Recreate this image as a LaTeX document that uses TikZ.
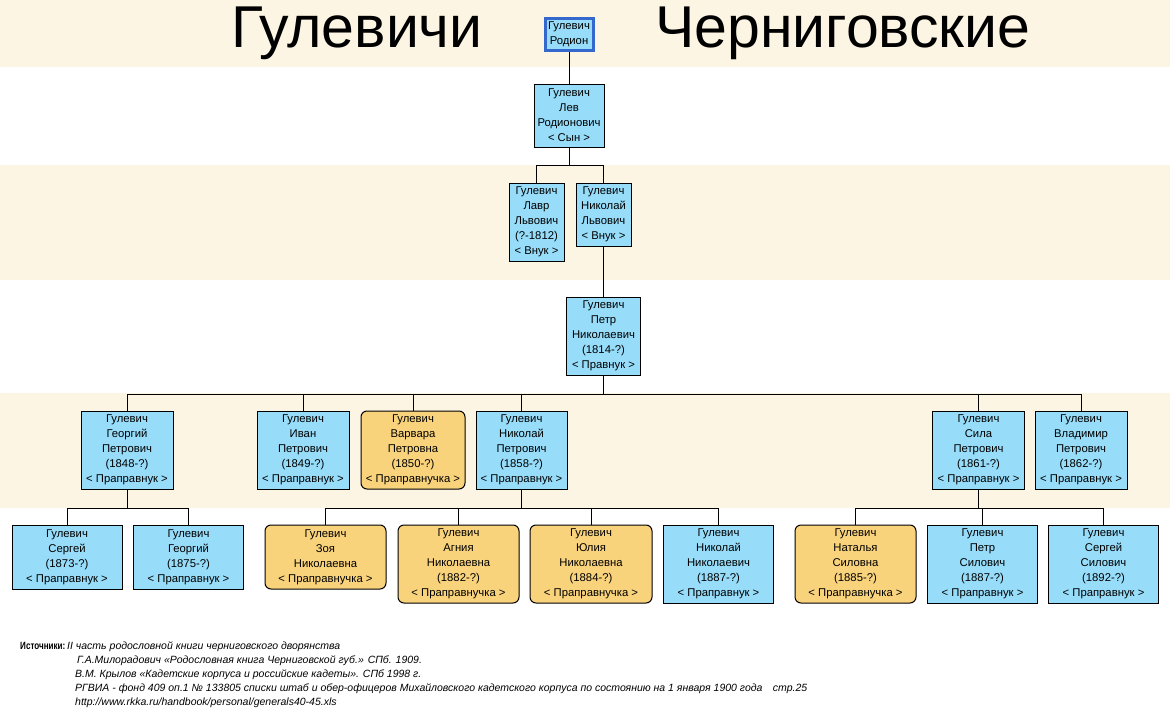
\documentclass[tikz,border=0pt]{standalone}
\usepackage{fontspec}
\setmainfont{Liberation Sans}
\newfontfamily\narrowfont[FakeStretch=0.77]{Liberation Sans}
\definecolor{band}{RGB}{253,245,228}
\definecolor{maleblue}{RGB}{151,221,250}
\definecolor{femaleorange}{RGB}{249,211,124}
\definecolor{rootblue}{RGB}{52,104,204}
\tikzset{
  male/.style={draw=black, line width=1pt, fill=maleblue, align=center, inner sep=0pt,
    font=\fontsize{11.3}{15}\selectfont},
  female/.style={male, fill=femaleorange, rounded corners=6pt},
  rootbox/.style={male, draw=rootblue, line width=3pt},
  link/.style={line width=1pt},
  titletext/.style={anchor=base west, inner sep=0pt, font=\fontsize{59}{59}\selectfont},
  srctext/.style={anchor=base west, inner sep=0pt, font=\fontsize{10.5}{12}\selectfont\itshape}
}
\begin{document}
\begin{tikzpicture}[x=1pt,y=-1pt]
\useasboundingbox (0,0) rectangle (1170,720);
\fill[white] (0,0) rectangle (1170,720);
\fill[band] (0,0) rectangle (1170,67);
\fill[band] (0,165) rectangle (1170,280);
\fill[band] (0,393) rectangle (1170,508);

\node[titletext] (title1) at (231,47) {Гулевичи};
\node[titletext] (title2) at (655,47) {Черниговские};

\coordinate (bar2) at (0,165);
\coordinate (bar3) at (0,394);
\coordinate (bar4) at (0,508);

\node[rootbox, minimum width=48, minimum height=32] (rodion) at (569,34.5) {Гулевич\\Родион};
\node[male, minimum width=70, minimum height=63] (lev) at (569,115.5) {Гулевич\\Лев\\Родионович\\< Сын >};

\node[male, minimum width=55, minimum height=78] (lavr) at (536.5,222) {Гулевич\\Лавр\\Львович\\(?-1812)\\< Внук >};
\node[male, minimum width=55, minimum height=63] (nikl) at (603.5,214.5) {Гулевич\\Николай\\Львович\\< Внук >};

\node[male, minimum width=74, minimum height=78] (petr) at (603.5,336) {Гулевич\\Петр\\Николаевич\\(1814-?)\\< Правнук >};

\node[male, minimum width=92, minimum height=78] (georgiyp) at (127,450) {Гулевич\\Георгий\\Петрович\\(1848-?)\\< Праправнук >};
\node[male, minimum width=92, minimum height=78] (ivan) at (303,450) {Гулевич\\Иван\\Петрович\\(1849-?)\\< Праправнук >};
\node[female, minimum width=104, minimum height=78] (varvara) at (413,450) {Гулевич\\Варвара\\Петровна\\(1850-?)\\< Праправнучка >};
\node[male, minimum width=91, minimum height=78] (nikp) at (521.5,450) {Гулевич\\Николай\\Петрович\\(1858-?)\\< Праправнук >};
\node[male, minimum width=92, minimum height=78] (sila) at (978.5,450) {Гулевич\\Сила\\Петрович\\(1861-?)\\< Праправнук >};
\node[male, minimum width=92, minimum height=78] (vladimir) at (1081,450) {Гулевич\\Владимир\\Петрович\\(1862-?)\\< Праправнук >};

\node[male, minimum width=110, minimum height=64] (sergei) at (67,557) {Гулевич\\Сергей\\(1873-?)\\< Праправнук >};
\node[male, minimum width=110, minimum height=64] (georgiy) at (188.5,557) {Гулевич\\Георгий\\(1875-?)\\< Праправнук >};
\node[female, minimum width=121, minimum height=64] (zoya) at (325.5,557) {Гулевич\\Зоя\\Николаевна\\< Праправнучка >};
\node[female, minimum width=121, minimum height=78] (agnia) at (458.5,564) {Гулевич\\Агния\\Николаевна\\(1882-?)\\< Праправнучка >};
\node[female, minimum width=122, minimum height=78] (yulia) at (591,564) {Гулевич\\Юлия\\Николаевна\\(1884-?)\\< Праправнучка >};
\node[male, minimum width=110, minimum height=78] (nikn) at (718.5,564) {Гулевич\\Николай\\Николаевич\\(1887-?)\\< Праправнук >};
\node[female, minimum width=121, minimum height=78] (natalya) at (855.5,564) {Гулевич\\Наталья\\Силовна\\(1885-?)\\< Праправнучка >};
\node[male, minimum width=110, minimum height=78] (petrs) at (982.5,564) {Гулевич\\Петр\\Силович\\(1887-?)\\< Праправнук >};
\node[male, minimum width=110, minimum height=78] (sergeis) at (1103.5,564) {Гулевич\\Сергей\\Силович\\(1892-?)\\< Праправнук >};

\draw[link] (rodion.south) -- (rodion.south |- lev.north);
\draw[link] (lev.south) -- (lev.south |- bar2) -| (lavr.north);
\draw[link] (lev.south |- bar2) -| (nikl.north);
\draw[link] (nikl.south) -- (petr.north);

\draw[link] (petr.south) -- (petr.south |- bar3) -| (georgiyp.north);
\draw[link] (petr.south |- bar3) -| (ivan.north);
\draw[link] (petr.south |- bar3) -| (varvara.north);
\draw[link] (petr.south |- bar3) -| (nikp.north);
\draw[link] (petr.south |- bar3) -| (sila.north);
\draw[link] (petr.south |- bar3) -| (vladimir.north);

\draw[link] (georgiyp.south) -- (georgiyp.south |- bar4) -| (sergei.north);
\draw[link] (georgiyp.south |- bar4) -| (georgiy.north);
\draw[link] (nikp.south) -- (nikp.south |- bar4) -| (zoya.north);
\draw[link] (nikp.south |- bar4) -| (agnia.north);
\draw[link] (nikp.south |- bar4) -| (yulia.north);
\draw[link] (nikp.south |- bar4) -| (nikn.north);
\draw[link] (sila.south) -- (sila.south |- bar4) -| (natalya.north);
\draw[link] (sila.south |- bar4) -| (petrs.north);
\draw[link] (sila.south |- bar4) -| (sergeis.north);

\node[srctext, font=\narrowfont\fontsize{10.5}{12}\selectfont\bfseries] (src) at (20,649) {Источники:};
\node[srctext] (src1) at (67,649) {II часть родословной книги черниговского дворянства};
\node[srctext] (src2) at (77,663) {Г.А.Милорадович «Родословная книга Черниговской губ.» СПб. 1909.};
\node[srctext] (src3) at (75,677) {В.М. Крылов «Кадетские корпуса и российские кадеты». СПб 1998 г.};
\node[srctext] (src4) at (75,691) {РГВИА - фонд 409 оп.1 № 133805 списки штаб и обер-офицеров Михайловского кадетского корпуса по состоянию на 1 января 1900 года\quad стр.25};
\node[srctext] (src5) at (75,705) {http://www.rkka.ru/handbook/personal/generals40-45.xls};
\end{tikzpicture}
\end{document}
